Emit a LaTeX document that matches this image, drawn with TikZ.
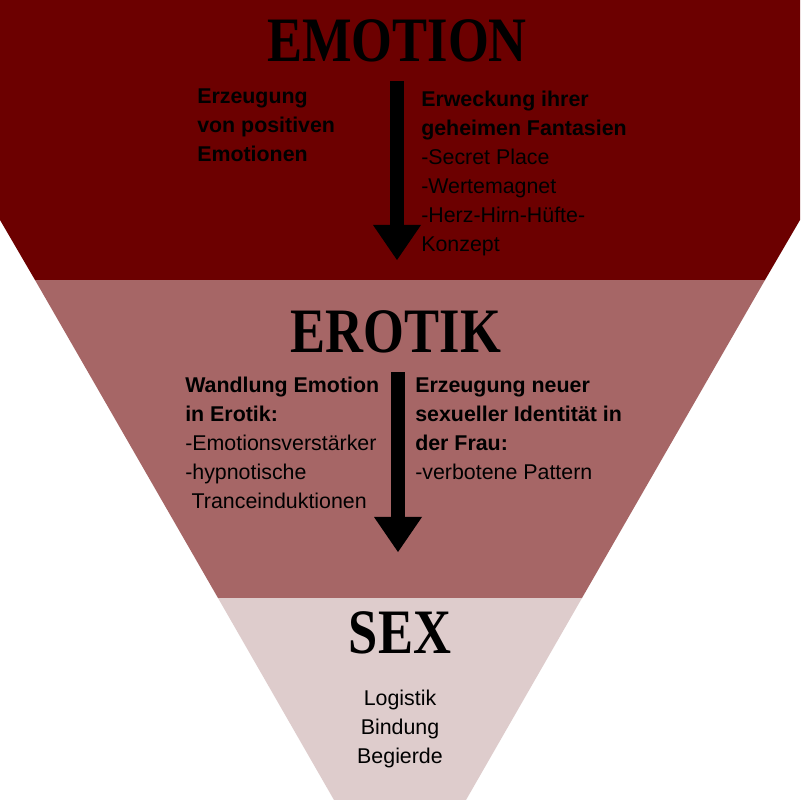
\documentclass[tikz,border=0pt]{standalone}
\usepackage{fontspec}
\setmainfont{Liberation Sans}
\newfontfamily\headfont[FakeStretch=0.83]{Liberation Serif}
\usetikzlibrary{arrows.meta}
\definecolor{emored}{RGB}{108,0,0}
\definecolor{erored}{RGB}{166,102,102}
\definecolor{sexrose}{RGB}{222,204,204}
\tikzset{
  title/.style={font=\headfont\bfseries\fontsize{45}{45}\selectfont, anchor=base, inner sep=0},
  txt/.style={font=\fontsize{15.2}{20.6}\selectfont, align=left, anchor=north west, inner sep=0},
  bigarrow/.style={line width=0.35cm, -{Triangle[width=1.2cm,length=0.875cm,line width=0pt]}}
}
\begin{document}
\begin{tikzpicture}[x=0.025cm,y=-0.025cm]
    \useasboundingbox (0,0) rectangle (800,800);
    \fill[white] (0,0) rectangle (800,800);

    %funnel bands
    \fill[emored] (0,0) -- (800,0) -- (800,220) -- (765,280) -- (35,280) -- (0,220) -- cycle;
    \fill[erored] (35,280) -- (765,280) -- (582,598) -- (218,598) -- cycle;
    \fill[sexrose] (218,598) -- (582,598) -- (466,800) -- (334,800) -- cycle;

    %titles
    \node[title] (emotion) at (397,62) {EMOTION};
    \node[title] (erotik) at (396,352) {EROTIK};
    \node[title] (sex) at (400,653) {SEX};

    %arrows
    \coordinate (a1) at (397,81);
    \coordinate (b1) at (397,260);
    \coordinate (a2) at (398,372);
    \coordinate (b2) at (398,552);
    \draw[bigarrow] (a1) -- (b1);
    \draw[bigarrow] (a2) -- (b2);

    %texts
    \node[txt] (emoleft) at (197,88.5) {\textbf{Erzeugung}\\\textbf{von positiven}\\\textbf{Emotionen}};
    \node[txt] (emoright) at (421,90.5) {\textbf{Erweckung ihrer}\\\textbf{geheimen Fantasien}\\-Secret Place\\-Wertemagnet\\-Herz-Hirn-Hüfte-\\Konzept};
    \node[txt] (eroleft) at (185,376.5) {\textbf{Wandlung Emotion}\\\textbf{in Erotik:}\\-Emotionsverstärker\\-hypnotische\\\hspace{0.3em}Tranceinduktionen};
    \node[txt] (eroright) at (415,377.5) {\textbf{Erzeugung neuer}\\\textbf{sexueller Identität in}\\\textbf{der Frau:}\\-verbotene Pattern};
    \node[txt, align=center, anchor=north] (sexlist) at (400,689.5) {Logistik\\Bindung\\Begierde};
\end{tikzpicture}
\end{document}
